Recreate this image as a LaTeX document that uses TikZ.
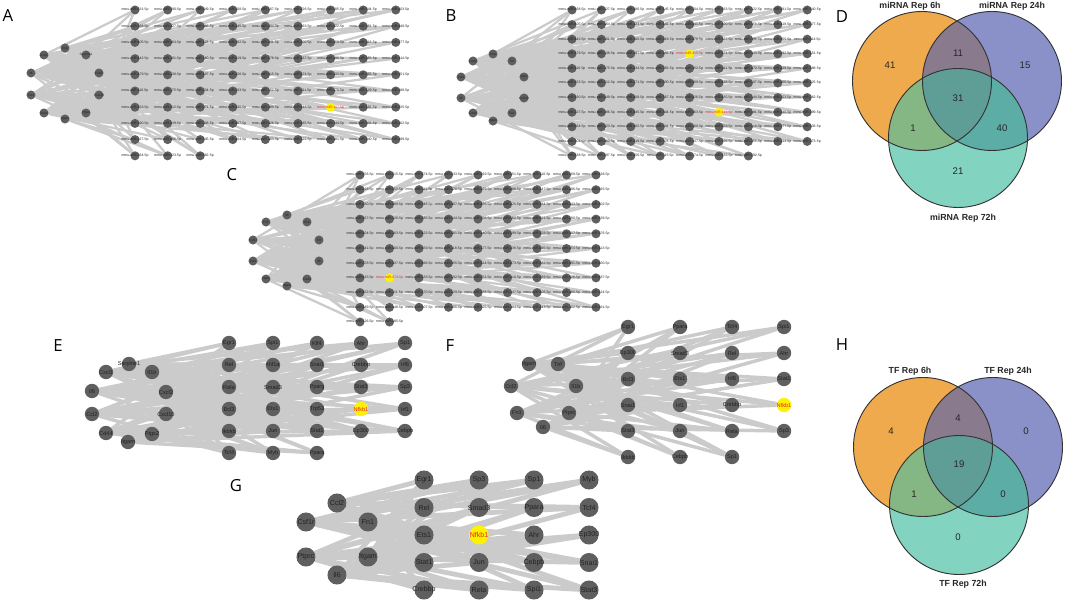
\documentclass[tikz,border=0pt]{standalone}
\usepackage{fontspec}
\setmainfont{Liberation Sans}
\newfontfamily\letfont{Open Sans}
\pgfdeclarelayer{edges}
\pgfsetlayers{edges,main}
\definecolor{ndgray}{HTML}{5F5F5F}
\definecolor{edgegray}{HTML}{CBCBCB}
\definecolor{lblgray}{HTML}{222222}
\definecolor{hiyel}{HTML}{FFF200}
\definecolor{hired}{HTML}{E8202A}
\definecolor{vor}{HTML}{EFAA4D}
\definecolor{vbl}{HTML}{8A91C8}
\definecolor{vte}{HTML}{82D3C0}
\definecolor{vob}{HTML}{8A7A8E}
\definecolor{vot}{HTML}{84B783}
\definecolor{vbt}{HTML}{5DADA7}
\definecolor{vall}{HTML}{5E9E96}
\tikzset{
 mirn/.style={circle, fill=#1, draw=none, inner sep=0pt, minimum size=6.8pt},
 mirL/.style={font=\fontsize{2.6}{3}\selectfont, text=#1, inner sep=0pt},
 hubS/.style={circle, fill=ndgray, inner sep=0pt, minimum size=6.8pt},
 hubL/.style={font=\fontsize{2.4}{3}\selectfont, text=lblgray, inner sep=0pt},
 edgeS/.style={draw=edgegray, line width=1.7pt},
 edgeM/.style={draw=edgegray, line width=2.6pt},
 edgeL/.style={draw=edgegray, line width=3.6pt},
 tfE/.style={circle, fill=#1, inner sep=0pt, minimum size=10.8pt},
 tfL/.style={font=\fontsize{4.2}{5}\selectfont, text=#1, inner sep=0pt},
 tfG/.style={circle, fill=#1, inner sep=0pt, minimum size=14.3pt},
 tfGL/.style={font=\fontsize{5.3}{6}\selectfont, text=#1, inner sep=0pt},
 panel/.style={font=\letfont\fontsize{12.5}{14}\selectfont, inner sep=0pt},
 vlab/.style={font=\bfseries\fontsize{6.6}{8}\selectfont, text=black!85, inner sep=0pt},
 vnum/.style={font=\fontsize{7.2}{8}\selectfont, text=black!85, inner sep=0pt},
 vline/.style={draw=black!80, line width=0.7pt},
}
% #1 prefix, #2 x0, #3 dx, #4 y0, #5 dy, #6 rows, #7 nodes in last row, #8 highlight test
\newcommand\MirGrid[8]{%
  \foreach \r in {1,...,#6}{%
    \pgfmathtruncatemacro\nc{\r==#6 ? #7 : 9}%
    \foreach \c in {1,...,\nc}{%
      \pgfmathtruncatemacro\mn{mod(\r*37+\c*59+#2,400)+100}%
      \pgfmathtruncatemacro\hl{#8}%
      \def\fc{ndgray}\def\tc{lblgray}%
      \ifnum\hl=1 \def\fc{hiyel}\def\tc{hired}\fi
      \node[mirn=\fc, label={[mirL=\tc]center:mmu-miR-\mn-5p}] (#1-\r-\c) at ({#2+(\c-1)*#3},{#4+(\r-1)*#5}) {};%
    }%
  }%
}
% #1 prefix, #2 rows, #3 nodes in last row, #4 hubs, #5 salt
\newcommand\MirEdges[5]{%
  \foreach \r in {1,...,#2}{%
    \pgfmathtruncatemacro\nc{\r==#2 ? #3 : 9}%
    \foreach \c in {1,...,\nc}{%
      \foreach \h in {1,...,#4}{%
        \pgfmathtruncatemacro\t{mod(\r*3+\c*7+\h*3+\r*\c+#5,10)}%
        \ifnum\t<3 \draw[edgeS] (#1h\h) -- (#1-\r-\c);\fi
      }%
    }%
  }%
}
\begin{document}
\begin{tikzpicture}[x=0.75pt,y=-0.75pt]
\useasboundingbox (0,0) rectangle (1065,602);

% ---------------- panel letters
\node[panel] (LA) at (8,16) {A};
\node[panel] (LB) at (451,16) {B};
\node[panel] (LC) at (232,175) {C};
\node[panel] (LD) at (842,17) {D};
\node[panel] (LE) at (58,346) {E};
\node[panel] (LF) at (450,346) {F};
\node[panel] (LG) at (236,486) {G};
\node[panel] (LH) at (842,345) {H};

% ---------------- panel A
\foreach \x/\y/\n [count=\i] in {31/73/Il6,31/95/Ccl2,44/55/Cxcl1,44/113/Cd44,65/48/Il1b,65/119/Itgam,86/55/Serpine1,86/113/Ptgs2,99/73/Cxcl2,99/95/Cxcl10}
  \node[hubS, label={[hubL]center:\n}] (Ah\i) at (\x,\y) {};
\MirGrid{A}{135}{32.6}{10}{16.2}{10}{3}{and(\r==7,\c==7)}

% ---------------- panel B
\foreach \x/\y/\n [count=\i] in {461/77/Ccl2,461/98/Il6,473/61/Cxcl2,473/113/Cd44,493/54/Il1b,493/121/Itgam,512/61/Tnf,512/113/Fn1,524/77/Ptprc,524/98/Cxcl10}
  \node[hubS, label={[hubL]center:\n}] (Bh\i) at (\x,\y) {};
\MirGrid{B}{572}{29.4}{10}{14.6}{11}{7}{or(and(\r==4,\c==5),and(\r==8,\c==6))}

% ---------------- panel C
\foreach \x/\y/\n [count=\i] in {253/240/Csf1r,253/261/Ccl2,266/222/Fn1,266/279/Ptprc,287/215/Il6,287/286/Itgam,307/222/Il1b,307/279/Cd44,319/240/Tnf,319/261/Il6}
  \node[hubS, label={[hubL]center:\n}] (Ch\i) at (\x,\y) {};
\MirGrid{C}{360}{29.5}{175}{14.7}{11}{2}{and(\r==8,\c==2)}

% ---------------- panel E
\foreach \x/\y/\n [count=\i] in {129/364/Serpine1,106/372/Cxcl1,152/372/Il1b,92/391/Il6,166/392/Cxcl2,92/414/Ccl2,166/414/Cxcl10,106/433/Cd44,128/442/Itgam,152/434/Ptgs2}
  \node[tfE=ndgray, label={[tfL=lblgray]center:\n}] (Eh\i) at (\x,\y) {};
\foreach \n [count=\i] in {Egr1,Spi1,Klf4,Ahr,Sp1,Rel,Hif1a,Snai1,Crebbp,Irf8,Rela,Smad3,Pparg,Stat3,Sp3,Bcl3,Ets1,Trp53,Nfkb1,Irf1,Ikbkb,Jun,Stat1,Ep300,Cebpb,Tcf4,Myb,Ppara}{
  \pgfmathtruncatemacro\cc{mod(\i-1,5)}
  \pgfmathtruncatemacro\rr{floor((\i-1)/5)}
  \def\fc{ndgray}\def\tc{lblgray}
  \ifnum\i=19 \def\fc{hiyel}\def\tc{hired}\fi
  \node[tfE=\fc, label={[tfL=\tc]center:\n}] (Et\i) at ({229+\cc*44},{343+\rr*22}) {};
}

% ---------------- panel F
\foreach \x/\y/\n [count=\i] in {529/364/Itgam,558/364/Tnf,511/386/Ccl2,576/386/Il1b,517/413/Fn1,569/413/Ptprc,543/427/Il6}
  \node[tfE=ndgray, label={[tfL=lblgray]center:\n}] (Fh\i) at (\x,\y) {};
\foreach \n [count=\i] in {Egr1,Ppara,Tcf4,Spi1,Ep300,Smad3,Rel,Ahr,Bcl3,Ets1,Irf8,Stat1,Snai1,Irf1,Crebbp,Nfkb1,Stat3,Jun,Rela,Sp3,Ikbkb,Cebpb,Sp1}{
  \pgfmathtruncatemacro\cc{mod(\i-1,4)}
  \pgfmathtruncatemacro\rr{floor((\i-1)/4)}
  \def\fc{ndgray}\def\tc{lblgray}
  \ifnum\i=16 \def\fc{hiyel}\def\tc{hired}\fi
  \node[tfE=\fc, label={[tfL=\tc]center:\n}] (Ft\i) at ({628+\cc*52},{327+\rr*26}) {};
}

% ---------------- panel G
\foreach \x/\y/\n [count=\i] in {337/503/Ccl2,306/522/Csf1r,368/522/Fn1,306/557/Ptprc,368/557/Itgam,337/575/Il6}
  \node[tfG=ndgray, label={[tfGL=lblgray]center:\n}] (Gh\i) at (\x,\y) {};
\foreach \n [count=\i] in {Egr1,Sp3,Sp1,Myb,Rel,Smad3,Ppara,Tcf4,Ets1,Nfkb1,Ahr,Ep300,Stat1,Jun,Cebpb,Snai1,Crebbp,Rela,Spi1,Stat3}{
  \pgfmathtruncatemacro\cc{mod(\i-1,4)}
  \pgfmathtruncatemacro\rr{floor((\i-1)/4)}
  \def\fc{ndgray}\def\tc{lblgray}
  \ifnum\i=10 \def\fc{hiyel}\def\tc{hired}\fi
  \node[tfG=\fc, label={[tfGL=\tc]center:\n}] (Gt\i) at ({424+\cc*55},{480+\rr*27.5}) {};
}

% ---------------- edges (behind the nodes)
\begin{pgfonlayer}{edges}
\MirEdges{A}{10}{3}{10}{0}
\MirEdges{B}{11}{7}{10}{4}
\MirEdges{C}{11}{2}{10}{7}
\foreach \i in {1,...,28}{\foreach \h in {1,...,10}{
  \pgfmathtruncatemacro\t{mod(\i*7+\h*3,10)}
  \ifnum\t<4 \draw[edgeM] (Eh\h) -- (Et\i);\fi}}
\foreach \i in {1,...,23}{\foreach \h in {1,...,7}{
  \pgfmathtruncatemacro\t{mod(\i*5+\h*3,7)}
  \ifnum\t<3 \draw[edgeM] (Fh\h) -- (Ft\i);\fi}}
\foreach \i in {1,...,20}{\foreach \h in {1,...,6}{
  \pgfmathtruncatemacro\t{mod(\i+\h*5,6)}
  \ifnum\t<3 \draw[edgeL] (Gh\h) -- (Gt\i);\fi}}
\end{pgfonlayer}

% ---------------- Venn D
\fill[vor] (922,81) circle (69.5);
\fill[vbl] (992,81) circle (69.5);
\fill[vte] (958,138) circle (69.5);
\begin{scope}\clip (922,81) circle (69.5); \fill[vob] (992,81) circle (69.5);\end{scope}
\begin{scope}\clip (922,81) circle (69.5); \fill[vot] (958,138) circle (69.5);\end{scope}
\begin{scope}\clip (992,81) circle (69.5); \fill[vbt] (958,138) circle (69.5);\end{scope}
\begin{scope}\clip (922,81) circle (69.5); \clip (992,81) circle (69.5); \fill[vall] (958,138) circle (69.5);\end{scope}
\draw[vline] (922,81) circle (69.5);
\draw[vline] (992,81) circle (69.5);
\draw[vline] (958,138) circle (69.5);
\node[vlab] (D6) at (910,6) {miRNA Rep 6h};
\node[vlab] (D24) at (1012,6) {miRNA Rep 24h};
\node[vlab] (D72) at (963,218) {miRNA Rep 72h};
\node[vnum] (Dn1) at (890,65) {41};
\node[vnum] (Dn2) at (958,53) {11};
\node[vnum] (Dn3) at (1025,65) {15};
\node[vnum] (Dn4) at (958,98) {31};
\node[vnum] (Dn5) at (913,128) {1};
\node[vnum] (Dn6) at (1002,128) {40};
\node[vnum] (Dn7) at (958,171) {21};

% ---------------- Venn H
\fill[vor] (923,447) circle (69.5);
\fill[vbl] (993,447) circle (69.5);
\fill[vte] (959,505) circle (69.5);
\begin{scope}\clip (923,447) circle (69.5); \fill[vob] (993,447) circle (69.5);\end{scope}
\begin{scope}\clip (923,447) circle (69.5); \fill[vot] (959,505) circle (69.5);\end{scope}
\begin{scope}\clip (993,447) circle (69.5); \fill[vbt] (959,505) circle (69.5);\end{scope}
\begin{scope}\clip (923,447) circle (69.5); \clip (993,447) circle (69.5); \fill[vall] (959,505) circle (69.5);\end{scope}
\draw[vline] (923,447) circle (69.5);
\draw[vline] (993,447) circle (69.5);
\draw[vline] (959,505) circle (69.5);
\node[vlab] (H6) at (910,371) {TF Rep 6h};
\node[vlab] (H24) at (1008,371) {TF Rep 24h};
\node[vlab] (H72) at (963,584) {TF Rep 72h};
\node[vnum] (Hn1) at (891,431) {4};
\node[vnum] (Hn2) at (958,418) {4};
\node[vnum] (Hn3) at (1026,431) {0};
\node[vnum] (Hn4) at (959,464) {19};
\node[vnum] (Hn5) at (914,494) {1};
\node[vnum] (Hn6) at (1003,494) {0};
\node[vnum] (Hn7) at (958,537) {0};
\end{tikzpicture}
\end{document}
